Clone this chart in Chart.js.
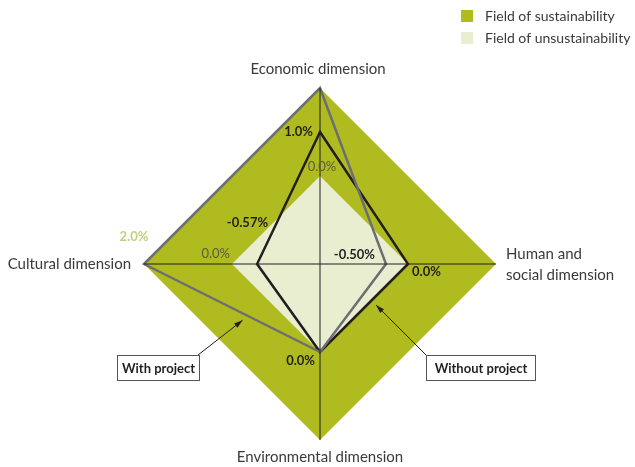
<!DOCTYPE html>
<html>
<head>
<meta charset="utf-8">
<script src="https://cdn.jsdelivr.net/npm/chart.js@4/dist/chart.umd.min.js"></script>
<style>
  html, body { margin: 0; padding: 0; background: #fff; }
  #chart { display: block; }
</style>
</head>
<body>
<canvas id="chart" width="635" height="467"></canvas>
<script>
"use strict";

// axes of the diagram, clockwise from the top
const dimensions = ["Economic dimension", ["Human and", "social dimension"], "Environmental dimension", "Cultural dimension"];

// the two fields and the two scenarios (in %)
const sustainField = [2.0, 2.0, 2.0, 2.0];
const unsustainField = [0.0, 0.0, 0.0, 0.0];
const withoutProject = [1.0, 0.0, 0.0, -0.57];
const withProject = [2.0, -0.5, 0.0, 2.0];

const legendLabels = ["Field of sustainability", "Field of unsustainability"];

const GREEN = "#afbb1f";
const LIGHT = "#e9eed1";
const DARK = "#231f20";
const GREY = "#6d6e71";
const TEXT = "#3a3a3a";
const FONT = "Lato, 'Open Sans', sans-serif";

// value labels: which series / axis they belong to and how they sit next to the point
const valueLabels = [
  { text: "1.0%", data: withoutProject, i: 0, dx: -7, dy: 0, align: "right", bold: true, color: DARK },
  { text: "0.0%", data: unsustainField, i: 0, dx: 2, dy: -9, align: "center", bold: false, color: "#5a5c3c" },
  { text: "-0.57%", data: withoutProject, i: 3, dx: 11, dy: -41, align: "right", bold: true, color: DARK },
  { text: "2.0%", data: sustainField, i: 3, dx: -10, dy: -27, align: "center", bold: true, color: "#c5ce7c" },
  { text: "0.0%", data: unsustainField, i: 3, dx: -2, dy: -10, align: "right", bold: false, color: "#5a5c3c" },
  { text: "-0.50%", data: withProject, i: 1, dx: -11, dy: -9, align: "right", bold: true, color: DARK },
  { text: "0.0%", data: withoutProject, i: 1, dx: 4, dy: 8, align: "left", bold: true, color: DARK },
  { text: "0.0%", data: withoutProject, i: 2, dx: -5, dy: 9, align: "right", bold: true, color: DARK }
];

// boxed callouts with an arrow pointing to a segment of a series
const callouts = [
  { text: "With project", data: withProject, from: 3, to: 2, t: 0.56, tipDx: 0, tipDy: 7, box: [117, 355, 82, 25], start: [198, 355] },
  { text: "Without project", data: withoutProject, from: 1, to: 2, t: 0.375, tipDx: 1, tipDy: 8, box: [426, 355, 109, 25], start: [426, 355] }
];

const labelPlugin = {
  id: "diagramText",
  afterDraw(chart) {
    const ctx = chart.ctx;
    const r = chart.scales.r;
    ctx.save();
    ctx.textBaseline = "middle";

    // axis names
    ctx.fillStyle = TEXT;
    ctx.font = "15px " + FONT;
    const top = r.getPointPositionForValue(0, r.max);
    const right = r.getPointPositionForValue(1, r.max);
    const bottom = r.getPointPositionForValue(2, r.max);
    const left = r.getPointPositionForValue(3, r.max);
    ctx.textAlign = "center";
    ctx.fillText(dimensions[0], top.x - 2, top.y - 19);
    ctx.fillText(dimensions[2], bottom.x, bottom.y + 17);
    ctx.textAlign = "left";
    ctx.fillText(dimensions[1][0], right.x + 10, right.y - 10);
    ctx.fillText(dimensions[1][1], right.x + 10, right.y + 11);
    ctx.textAlign = "right";
    ctx.fillText(dimensions[3], left.x - 13, left.y);

    // value labels
    valueLabels.forEach(l => {
      const p = r.getPointPositionForValue(l.i, l.data[l.i]);
      ctx.font = (l.bold ? "bold " : "") + "13px " + FONT;
      ctx.fillStyle = l.color;
      ctx.textAlign = l.align;
      ctx.fillText(l.text, p.x + l.dx, p.y + l.dy);
    });

    // callouts
    callouts.forEach(c => {
      const a = r.getPointPositionForValue(c.from, c.data[c.from]);
      const b = r.getPointPositionForValue(c.to, c.data[c.to]);
      const tx = a.x + (b.x - a.x) * c.t + c.tipDx;
      const ty = a.y + (b.y - a.y) * c.t + c.tipDy;
      const [sx, sy] = c.start;
      ctx.strokeStyle = DARK;
      ctx.lineWidth = 1;
      ctx.beginPath();
      ctx.moveTo(sx, sy);
      ctx.lineTo(tx, ty);
      ctx.stroke();
      const ang = Math.atan2(ty - sy, tx - sx);
      ctx.fillStyle = DARK;
      ctx.beginPath();
      ctx.moveTo(tx, ty);
      ctx.lineTo(tx - 9 * Math.cos(ang - 0.3), ty - 9 * Math.sin(ang - 0.3));
      ctx.lineTo(tx - 9 * Math.cos(ang + 0.3), ty - 9 * Math.sin(ang + 0.3));
      ctx.closePath();
      ctx.fill();
      const [bx, by, bw, bh] = c.box;
      ctx.fillStyle = "#fff";
      ctx.fillRect(bx, by, bw, bh);
      ctx.strokeStyle = "#555";
      ctx.strokeRect(bx + 0.5, by + 0.5, bw, bh);
      ctx.fillStyle = DARK;
      ctx.font = "bold 13px " + FONT;
      ctx.textAlign = "center";
      ctx.fillText(c.text, bx + bw / 2 + 0.5, by + bh / 2 + 1);
    });

    // legend
    const swatches = [GREEN, LIGHT];
    legendLabels.forEach((t, k) => {
      const y = 10 + k * 22;
      ctx.fillStyle = swatches[k];
      ctx.fillRect(461, y, 12, 12);
      ctx.fillStyle = TEXT;
      ctx.font = "14px " + FONT;
      ctx.textAlign = "left";
      ctx.fillText(t, 485, y + 6);
    });
    ctx.restore();
  }
};

new Chart(document.getElementById("chart"), {
  type: "radar",
  data: {
    labels: dimensions,
    datasets: [
      { label: "With project", data: withProject, borderColor: GREY, borderWidth: 2.5, fill: false },
      { label: "Without project", data: withoutProject, borderColor: DARK, borderWidth: 2.5, fill: false },
      { label: legendLabels[1], data: unsustainField, backgroundColor: LIGHT, borderWidth: 0, fill: "start" },
      { label: legendLabels[0], data: sustainField, backgroundColor: GREEN, borderWidth: 0, fill: "start" }
    ]
  },
  options: {
    responsive: false,
    animation: false,
    layout: { padding: { left: 144, right: 139, top: 88, bottom: 27 } },
    elements: { point: { radius: 0 }, line: { tension: 0, borderJoinStyle: "miter" } },
    plugins: { legend: { display: false }, tooltip: { enabled: false } },
    scales: {
      r: {
        min: -2,
        max: 2,
        ticks: { display: false, stepSize: 2 },
        grid: { display: false, z: 1 },
        angleLines: { display: true, color: DARK, lineWidth: 1 },
        pointLabels: { display: false }
      }
    }
  },
  plugins: [labelPlugin]
});
</script>
</body>
</html>
